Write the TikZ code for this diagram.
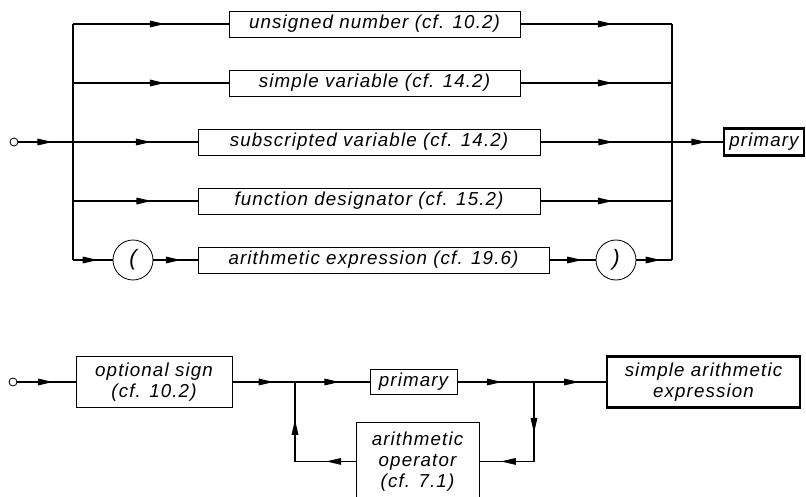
\documentclass[tikz,border=0pt]{standalone}
\usepackage{fontspec}
\newfontfamily\dinfont{Liberation Sans}[LetterSpace=6]
\usetikzlibrary{arrows.meta,calc,positioning,decorations.markings}
\tikzset{
  rule/.style={rectangle,draw,line width=0.7pt,align=center,inner sep=2pt,
    font=\dinfont\itshape\fontsize{16}{18}\selectfont},
  goal/.style={line width=2.2pt},
  sym/.style={circle,draw,line width=0.7pt,minimum size=1.2cm,inner sep=0pt,
    font=\dinfont\itshape\fontsize{19}{20}\selectfont},
  start/.style={circle,draw,line width=0.7pt,minimum size=0.24cm,inner sep=0pt},
  conn/.style={line width=0.9pt},
  % filled arrow head somewhere along a connector
  flow/.style={postaction={decorate,decoration={markings,
    mark=at position #1 with {\arrow{Triangle[length=4.5mm,width=2mm]}}}}}
}

\begin{document}
\begin{tikzpicture}[x=0.03cm,y=-0.03cm]
  \useasboundingbox (0,0) rectangle (806,496);
  \clip (0,0) rectangle (806,496);
  % primary
  \node[start] (in1) at (14,142) {};
  \node[rule,minimum width=8.73cm,minimum height=0.78cm] (num) at (374.5,24) {unsigned number (cf. 10.2)};
  \node[rule,minimum width=8.73cm,minimum height=0.78cm] (var) at (374.5,83) {simple variable (cf. 14.2)};
  \node[rule,minimum width=10.26cm,minimum height=0.78cm] (sub) at (369,142) {subscripted variable (cf. 14.2)};
  \node[rule,minimum width=10.26cm,minimum height=0.78cm] (fun) at (369,201) {function designator (cf. 15.2)};
  \node[rule,minimum width=10.53cm,minimum height=0.78cm] (aexp) at (373.5,260) {arithmetic expression (cf. 19.6)};
  \node[sym] (lpar) at (133,260) {(};
  \node[sym] (rpar) at (616,260) {)};
  \node[rule,goal,minimum width=2.4cm,minimum height=0.8cm] (prim) at (764,142) {primary};
  \coordinate (lt) at (73,24);
  \coordinate (lb) at (73,260);
  \coordinate (rt) at (672,24);
  \coordinate (rb) at (672,260);
  \draw[conn] (lt) -- (lb);
  \draw[conn] (rt) -- (rb);
  \draw[conn,flow=0.59] (lt) -- (num);
  \draw[conn,flow=0.59] (lt |- var) -- (var);
  \draw[conn,flow=0.19,flow=0.74] (in1) -- (sub);
  \draw[conn,flow=0.63] (lt |- fun) -- (fun);
  \draw[conn,flow=0.625] (lb) -- (lpar);
  \draw[conn,flow=0.62] (lpar) -- (aexp);
  \draw[conn,flow=0.61] (num) -- (rt);
  \draw[conn,flow=0.61] (var) -- (rt |- var);
  \draw[conn,flow=0.40,flow=0.91] (sub) -- (prim);
  \draw[conn,flow=0.55] (fun) -- (rt |- fun);
  \draw[conn,flow=0.71] (aexp) -- (rpar);
  \draw[conn,flow=0.68] (rpar) -- (rb);

  % simple arithmetic expression
  \node[start] (in2) at (13,382) {};
  \node[rule,minimum width=4.68cm,minimum height=1.53cm] (sign) at (154,382) {optional sign\\(cf. 10.2)};
  \node[rule,minimum width=2.61cm,minimum height=0.75cm] (prim2) at (413.5,382) {primary};
  \node[rule,goal,minimum width=5.79cm,minimum height=1.53cm] (sae) at (703.5,382) {simple arithmetic\\expression};
  \node[rule,minimum width=3.69cm,minimum height=2.34cm,anchor=north] (op) at (417.5,422) {arithmetic\\operator\\(cf. 7.1)};
  \coordinate (jl) at (295,382);
  \coordinate (jr) at (534,382);
  \draw[conn,flow=0.61] (in2) -- (sign);
  \draw[conn,flow=0.30,flow=0.78] (sign) -- (prim2);
  \draw[conn,flow=0.30,flow=0.82] (prim2) -- (sae);
  \draw[conn,flow=0.38,flow=0.84] (jr) |- (op);
  \draw[conn,flow=0.21,flow=0.73] (op) -| (jl);
\end{tikzpicture}
\end{document}
